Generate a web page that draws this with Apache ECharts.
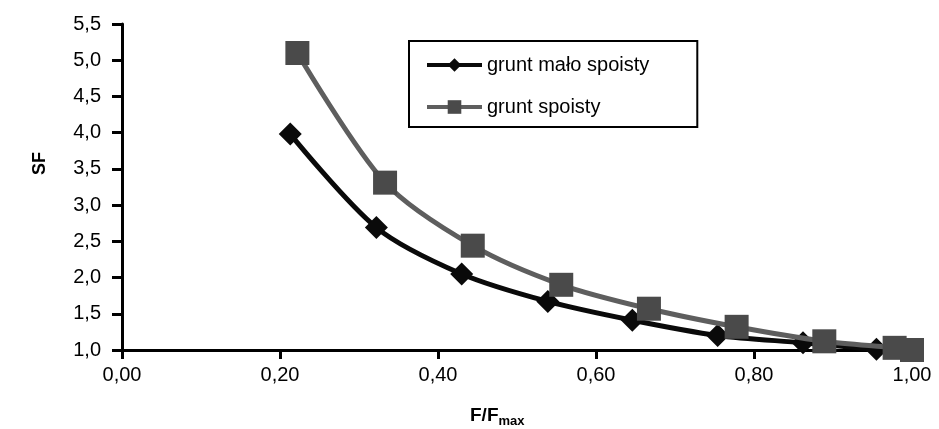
<!DOCTYPE html>
<html>
<head>
<meta charset="utf-8">
<script src="https://cdn.jsdelivr.net/npm/echarts@6/dist/echarts.min.js"></script>
<style>
  html, body { margin: 0; padding: 0; background: #fff; }
  #chart { width: 939px; height: 429px; }
</style>
</head>
<body>
<div id="chart"></div>
<script>
// values
const seriesNames = ["grunt mało spoisty", "grunt spoisty"];
const xMaloSpoisty = [0.213, 0.322, 0.430, 0.539, 0.646, 0.754, 0.862, 0.955, 1.0];
const yMaloSpoisty = [3.98, 2.69, 2.05, 1.67, 1.41, 1.20, 1.10, 1.01, 1.0];
const xSpoisty = [0.222, 0.333, 0.444, 0.556, 0.667, 0.778, 0.889, 0.978, 1.0];
const ySpoisty = [5.10, 3.31, 2.44, 1.90, 1.57, 1.32, 1.12, 1.03, 1.0];
const xTicks = { min: 0, max: 1, interval: 0.2 };
const yTicks = { min: 1, max: 5.5, interval: 0.5 };

const font = "'Liberation Sans', Arial, sans-serif";
const pairs = (xs, ys) => xs.map((x, i) => [x, ys[i]]);

const chart = echarts.init(document.getElementById("chart"));

const option = {
  backgroundColor: "#fff",
  animation: false,
  textStyle: { fontFamily: font },
  grid: { left: 122, right: 27, top: 24, bottom: 79, containLabel: false },
  legend: {
    orient: "vertical",
    left: 409,
    top: 41,
    padding: [14, 48, 10, 16],
    itemGap: 22,
    itemWidth: 55,
    itemHeight: 17,
    borderColor: "#000",
    borderWidth: 2,
    backgroundColor: "#fff",
    lineStyle: { width: 4 },
    textStyle: { fontSize: 20, color: "#000", lineHeight: 20, fontFamily: font },
    data: seriesNames
  },
  xAxis: {
    type: "value",
    min: xTicks.min,
    max: xTicks.max,
    interval: xTicks.interval,
    splitLine: { show: false },
    axisLine: { lineStyle: { color: "#000", width: 3 } },
    axisTick: { length: 9, lineStyle: { color: "#000", width: 3 } },
    axisLabel: {
      margin: 15,
      fontSize: 20,
      color: "#000",
      fontFamily: font,
      formatter: v => v.toFixed(2).replace(".", ",")
    }
  },
  yAxis: {
    type: "value",
    min: yTicks.min,
    max: yTicks.max,
    interval: yTicks.interval,
    splitLine: { show: false },
    axisLine: { show: true, lineStyle: { color: "#000", width: 3 } },
    axisTick: { show: true, length: 10, lineStyle: { color: "#000", width: 3 } },
    axisLabel: {
      margin: 21,
      fontSize: 20,
      color: "#000",
      fontFamily: font,
      formatter: v => v.toFixed(1).replace(".", ",")
    }
  },
  graphic: [
    {
      type: "text",
      left: 31,
      top: 152,
      rotation: Math.PI / 2,
      style: { text: "SF", fontSize: 18, fontWeight: "bold", fill: "#000", fontFamily: font }
    },
    {
      type: "text",
      left: 470,
      top: 406,
      style: {
        text: "{a|F/F}{b|max}",
        fill: "#000",
        fontFamily: font,
        rich: {
          a: { fontSize: 19, fontWeight: "bold", fontFamily: font, verticalAlign: "bottom" },
          b: { fontSize: 13, fontWeight: "bold", fontFamily: font, verticalAlign: "bottom", padding: [0, 0, -3, 0] }
        }
      }
    }
  ],
  series: [
    {
      name: seriesNames[0],
      type: "line",
      smooth: 0.3,
      data: pairs(xMaloSpoisty, yMaloSpoisty),
      symbol: "diamond",
      symbolSize: 23,
      lineStyle: { color: "#0a0a0a", width: 5 },
      itemStyle: { color: "#0a0a0a" },
      z: 2
    },
    {
      name: seriesNames[1],
      type: "line",
      smooth: 0.3,
      data: pairs(xSpoisty, ySpoisty),
      symbol: "rect",
      symbolSize: 24,
      lineStyle: { color: "#5e5e5e", width: 5 },
      itemStyle: { color: "#4a4a4a" },
      z: 3
    }
  ]
};

chart.setOption(option);
</script>
</body>
</html>
